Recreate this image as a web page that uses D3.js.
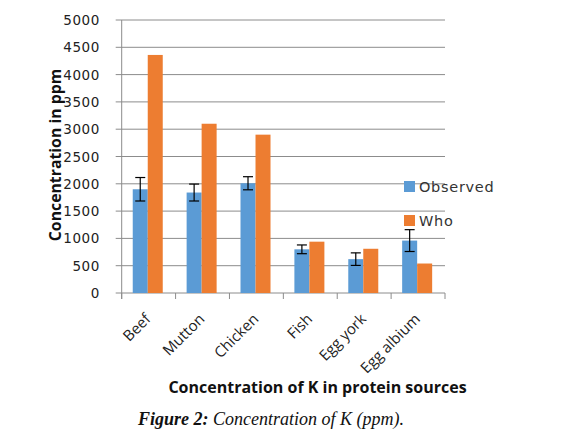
<!DOCTYPE html>
<html><head><meta charset="utf-8">
<script src="https://cdn.jsdelivr.net/npm/d3@7"></script>
<style>body{margin:0;background:#fff}svg{display:block}</style>
</head><body>
<script>
const categories = ["Beef","Mutton","Chicken","Fish","Egg york","Egg albium"];
const observed = [1900,1840,2010,800,620,960];
const observedErr = [215,155,120,80,115,200];
const who = [4360,3100,2900,940,810,540];
const seriesNames = ["Observed","Who"];
const yTicks = [0,500,1000,1500,2000,2500,3000,3500,4000,4500,5000];

(function(){
const W=570,H=438;
const svg=d3.select("body").append("svg").attr("width",W).attr("height",H);
const pL=121.7,pR=445,pT=20,pB=293;
const x=d3.scaleBand().domain(categories).range([pL,pR]).paddingInner(0).paddingOuter(0);
const y=d3.scaleLinear().domain([0,5000]).range([pB,pT]);
const inner=d3.scaleBand().domain(seriesNames).range([0,30]);
const colors={Observed:"#5b9bd5",Who:"#ed7d31"};
const grey="#8c8c8c";

svg.append("g").selectAll("line").data(yTicks).join("line")
 .attr("x1",pL-6).attr("x2",pR).attr("y1",d=>y(d)).attr("y2",d=>y(d))
 .attr("stroke",grey).attr("stroke-width",1);
svg.append("g").selectAll("text").data(yTicks).join("text")
 .attr("x",100).attr("y",d=>y(d)+5).attr("text-anchor","end")
 .attr("font-family","DejaVu Sans").attr("font-size",13.5).attr("letter-spacing",0.6).attr("fill","#222")
 .text(d=>d);
svg.append("line").attr("x1",pL).attr("x2",pL).attr("y1",pT).attr("y2",pB+6).attr("stroke",grey);
const xt=categories.map(c=>x(c)).concat([pR]);
svg.append("g").selectAll("line").data(xt).join("line")
 .attr("x1",d=>d).attr("x2",d=>d).attr("y1",pB).attr("y2",pB+6).attr("stroke",grey);

const data=categories.map((c,i)=>({c,o:observed[i],e:observedErr[i],w:who[i]}));
const g=svg.append("g");
const off=(x.bandwidth()-30)/2-0.9;
data.forEach(d=>{
  [["Observed",d.o],["Who",d.w]].forEach(([s,v])=>{
    g.append("rect").attr("x",x(d.c)+off+inner(s)).attr("width",inner.bandwidth())
     .attr("y",y(v)).attr("height",pB-y(v)).attr("fill",colors[s]);
  });
  const cx=x(d.c)+off+inner("Observed")+inner.bandwidth()/2;
  g.append("line").attr("x1",cx).attr("x2",cx).attr("y1",y(d.o+d.e)).attr("y2",y(d.o-d.e)).attr("stroke","#000").attr("stroke-width",1.2);
  [d.o+d.e,d.o-d.e].forEach(v=>g.append("line").attr("x1",cx-5).attr("x2",cx+5).attr("y1",y(v)).attr("y2",y(v)).attr("stroke","#000").attr("stroke-width",1.2));
});
svg.append("g").selectAll("text").data(categories).join("text")
 .attr("transform",d=>`translate(${x(d)+x.bandwidth()/2+3},${pB+27}) rotate(-45)`)
 .attr("text-anchor","end").attr("font-family","Open Sans").attr("font-size",15).attr("fill","#222")
 .text(d=>d);
seriesNames.forEach((s,i)=>{
  const ly=181+i*34;
  svg.append("rect").attr("x",404).attr("y",ly).attr("width",11).attr("height",11).attr("fill",colors[s]);
  svg.append("text").attr("x",419).attr("y",ly+11).attr("font-family","DejaVu Sans").attr("font-size",14.5)
   .attr("letter-spacing",0.7).attr("fill","#333").text(s);
});
svg.append("text").attr("transform","translate(61,155) rotate(-90)").attr("text-anchor","middle")
 .attr("font-family","Open Sans").attr("font-weight","bold").attr("font-size",15.8).attr("fill","#111")
 .text("Concentration in ppm");
svg.append("text").attr("x",317.5).attr("y",393).attr("text-anchor","middle")
 .attr("font-family","Open Sans").attr("font-weight","bold").attr("font-size",16).attr("fill","#111")
 .text("Concentration of K in protein sources");
const cap=svg.append("text").attr("x",138).attr("y",425).attr("font-family","Liberation Serif").attr("font-size",18).attr("font-style","italic").attr("fill","#111");
cap.append("tspan").attr("font-weight","bold").text("Figure 2:");
cap.append("tspan").text(" Concentration of K (ppm).");
})();
</script>
</body></html>
